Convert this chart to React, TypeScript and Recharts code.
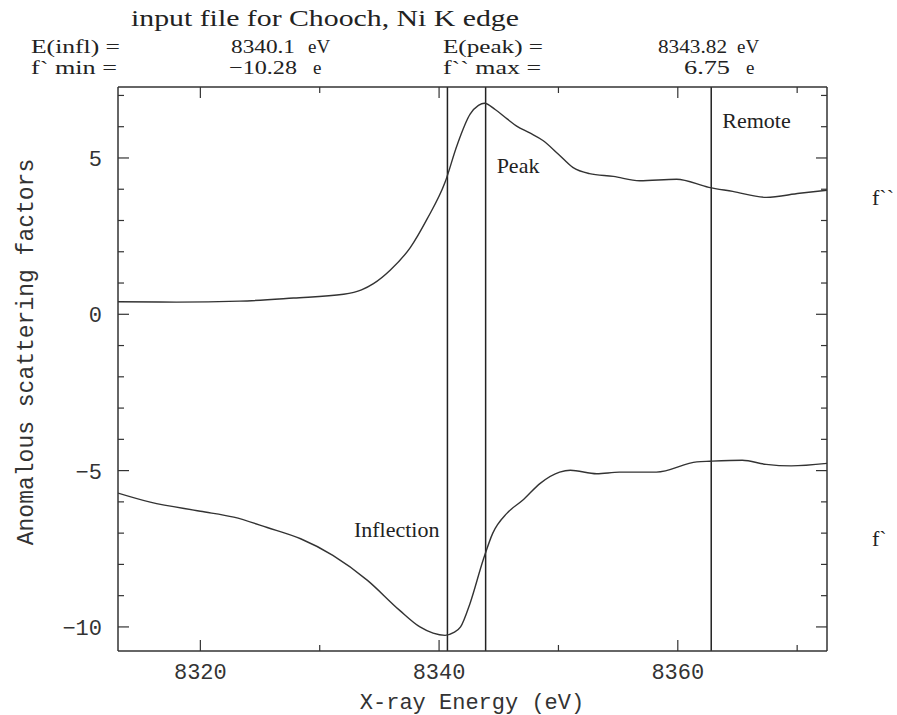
import React from "react"
import { LineChart, Line, XAxis, YAxis, ReferenceLine } from "recharts"

// f`` (upper curve)
const fppEnergy = [
  8313.1, 8318.0, 8323.3, 8327.8, 8332.0, 8333.5, 8334.5, 8335.9, 8337.6, 8339.0, 8340.5, 8341.5,
  8342.6, 8343.3, 8343.8, 8344.7, 8345.7, 8346.5, 8347.6, 8348.7, 8350.0, 8351.2, 8352.6, 8354.6,
  8356.8, 8359.9, 8362.6, 8364.6, 8367.4, 8370.2, 8372.5,
]
const fppValues = [
  0.4, 0.39, 0.42, 0.52, 0.64, 0.78, 0.98, 1.41, 2.14, 3.05, 4.22, 5.4,
  6.4, 6.68, 6.75, 6.55, 6.25, 6.02, 5.8, 5.56, 5.12, 4.7, 4.5, 4.41,
  4.27, 4.32, 4.06, 3.93, 3.74, 3.87, 3.97,
]

// f` (lower curve)
const fpEnergy = [
  8313.1, 8315.8, 8320.0, 8322.8, 8325.6, 8328.4, 8331.1, 8334.0, 8336.7, 8338.4, 8339.5, 8340.5,
  8341.2, 8341.8, 8342.6, 8343.7, 8344.5, 8345.7, 8347.0, 8348.5, 8350.1, 8351.0, 8353.2, 8355.1,
  8358.2, 8361.6, 8362.7, 8365.4, 8367.4, 8369.5, 8372.5,
]
const fpValues = [
  -5.72, -6.01, -6.3, -6.49, -6.82, -7.18, -7.71, -8.51, -9.47, -10.0, -10.2, -10.27,
  -10.18, -10.0, -9.24, -7.85, -7.0, -6.36, -5.95, -5.4, -5.05, -4.99, -5.1, -5.05,
  -5.05, -4.72, -4.7, -4.67, -4.8, -4.85, -4.77,
]

const markerNames = ["Inflection", "Peak", "Remote"]
const markerEnergy = [8340.7, 8343.9, 8362.8]

const xTicks = [8320, 8330, 8340, 8350, 8360, 8370]
const xLabeled = [8320, 8340, 8360]
const yTicks = [-10, -9, -8, -7, -6, -5, -4, -3, -2, -1, 0, 1, 2, 3, 4, 5, 6, 7]
const yLabeled = [-10, -5, 0, 5]

const fppData = fppEnergy.map((e, i) => ({ e, v: fppValues[i] }))
const fpData = fpEnergy.map((e, i) => ({ e, v: fpValues[i] }))

const INK = "#333"
const MONO = "'Liberation Mono', monospace"
const SERIF = "'Liberation Serif', serif"

const fmt = (v: number) => (v < 0 ? "\u2212" + Math.abs(v) : String(v))

function BottomTick({ x, y, payload }: any) {
  const major = xLabeled.includes(payload.value)
  return (
    <g>
      <line x1={x} x2={x} y1={y} y2={y - (major ? 11 : 6)} stroke={INK} strokeWidth={1.2} />
      {major && (
        <text x={x} y={y + 28} textAnchor="middle" fontFamily={MONO} fontSize={22} fill={INK}>
          {payload.value}
        </text>
      )}
    </g>
  )
}

function TopTick({ x, y, payload }: any) {
  const major = xLabeled.includes(payload.value)
  return <line x1={x} x2={x} y1={y} y2={y + (major ? 11 : 6)} stroke={INK} strokeWidth={1.2} />
}

function LeftTick({ x, y, payload }: any) {
  const major = yLabeled.includes(payload.value)
  return (
    <g>
      <line x1={x} x2={x + (major ? 11 : 6)} y1={y} y2={y} stroke={INK} strokeWidth={1.2} />
      {major && (
        <text x={x - 16} y={y + 8} textAnchor="end" fontFamily={MONO} fontSize={22} fill={INK}>
          {fmt(payload.value)}
        </text>
      )}
    </g>
  )
}

function RightTick({ x, y, payload }: any) {
  const major = yLabeled.includes(payload.value)
  return <line x1={x} x2={x - (major ? 11 : 6)} y1={y} y2={y} stroke={INK} strokeWidth={1.2} />
}

function MarkerLabel({ viewBox, text, dx, dy, anchor }: any) {
  if (!viewBox) return null
  return (
    <text x={viewBox.x + dx} y={viewBox.y + dy} textAnchor={anchor} fontFamily={SERIF} fontSize={22} fill="#222">
      {text}
    </text>
  )
}

const labelPlacement = [
  { dx: -8, dy: 450, anchor: "end" },
  { dx: 11, dy: 86, anchor: "start" },
  { dx: 11, dy: 41, anchor: "start" },
]

// header text pieces: [text, x, y, width (0 = natural)]
const header: [string, number, number, number][] = [
  ["E(infl) =", 31, 53, 89],
  ["8340.1", 231, 53, 64],
  ["eV", 308, 53, 0],
  ["E(peak) =", 443, 53, 100],
  ["8343.82", 658, 53, 69],
  ["eV", 737, 53, 0],
  ["f` min =", 31, 74, 86],
  ["\u221210.28", 229, 74, 68],
  ["e", 313, 74, 0],
  ["f`` max =", 443, 74, 98],
  ["6.75", 684, 74, 46],
  ["e", 746, 74, 0],
]

export default function App() {
  return (
    <div style={{ position: "absolute", left: 0, top: 0, width: 897, height: 715, background: "#fff" }}>
      <LineChart
        width={897}
        height={715}
        margin={{ top: 86, right: 69, bottom: 63, left: 117 }}
      >
        <XAxis
          xAxisId="bottom"
          type="number"
          dataKey="e"
          domain={[8313.1, 8372.5]}
          ticks={xTicks}
          interval={0}
          height={1}
          tickSize={0}
          tickMargin={0}
          tickLine={false}
          tick={<BottomTick />}
          axisLine={{ stroke: INK, strokeWidth: 1.5 }}
          allowDataOverflow
        />
        <XAxis
          xAxisId="top"
          orientation="top"
          type="number"
          dataKey="e"
          domain={[8313.1, 8372.5]}
          ticks={xTicks}
          interval={0}
          height={1}
          tickSize={0}
          tickMargin={0}
          tickLine={false}
          tick={<TopTick />}
          axisLine={{ stroke: INK, strokeWidth: 1.5 }}
          allowDataOverflow
        />
        <YAxis
          yAxisId="left"
          type="number"
          domain={[-10.77, 7.27]}
          ticks={yTicks}
          interval={0}
          width={1}
          tickSize={0}
          tickMargin={0}
          tickLine={false}
          tick={<LeftTick />}
          axisLine={{ stroke: INK, strokeWidth: 1.5 }}
          allowDataOverflow
        />
        <YAxis
          yAxisId="right"
          orientation="right"
          type="number"
          domain={[-10.77, 7.27]}
          ticks={yTicks}
          interval={0}
          width={1}
          tickSize={0}
          tickMargin={0}
          tickLine={false}
          tick={<RightTick />}
          axisLine={{ stroke: INK, strokeWidth: 1.5 }}
          allowDataOverflow
        />
        {markerEnergy.map((e, i) => (
          <ReferenceLine
            key={markerNames[i]}
            xAxisId="bottom"
            yAxisId="left"
            x={e}
            stroke="#222"
            strokeWidth={1.5}
            label={<MarkerLabel text={markerNames[i]} {...labelPlacement[i]} />}
          />
        ))}
        <Line
          xAxisId="bottom"
          yAxisId="left"
          data={fppData}
          dataKey="v"
          type="monotone"
          stroke="#333"
          strokeWidth={1.4}
          dot={false}
          isAnimationActive={false}
        />
        <Line
          xAxisId="bottom"
          yAxisId="left"
          data={fpData}
          dataKey="v"
          type="monotone"
          stroke="#333"
          strokeWidth={1.4}
          dot={false}
          isAnimationActive={false}
        />
      </LineChart>
      <svg
        width={897}
        height={715}
        style={{ position: "absolute", left: 0, top: 0, pointerEvents: "none" }}
      >
        <g fontFamily={SERIF} fill="#222">
          <text x={131} y={26} fontSize={24} textLength={388} lengthAdjust="spacingAndGlyphs">
            input file for Chooch, Ni K edge
          </text>
          {header.map(([t, x, y, w], i) =>
            w > 0 ? (
              <text key={i} x={x} y={y} fontSize={19} textLength={w} lengthAdjust="spacingAndGlyphs">
                {t}
              </text>
            ) : (
              <text key={i} x={x} y={y} fontSize={19}>
                {t}
              </text>
            )
          )}
          <text x={872} y={205} fontSize={22}>f``</text>
          <text x={872} y={546} fontSize={22}>f`</text>
        </g>
        <text x={472} y={709} textAnchor="middle" fontFamily={MONO} fontSize={22} fill={INK}>
          X-ray Energy (eV)
        </text>
        <text
          x={33}
          y={352}
          transform="rotate(-90 33 352)"
          textAnchor="middle"
          fontFamily={MONO}
          fontSize={23}
          fill={INK}
        >
          Anomalous scattering factors
        </text>
      </svg>
    </div>
  )
}
